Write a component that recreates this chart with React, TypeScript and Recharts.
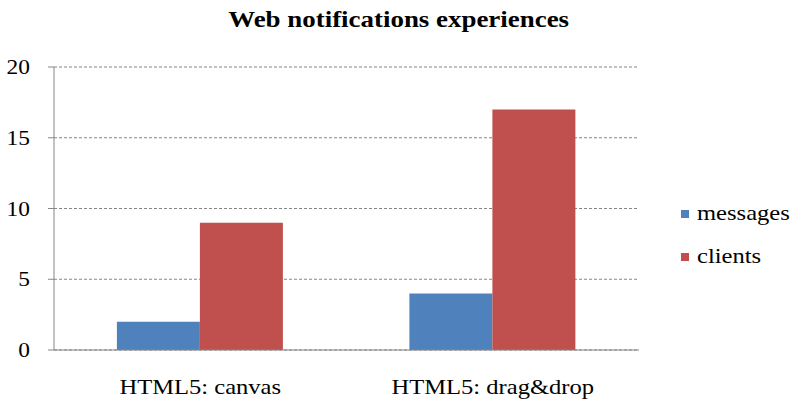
import { BarChart, Bar, XAxis, YAxis, CartesianGrid } from "recharts";

const categories = ["HTML5: canvas", "HTML5: drag&drop"];
const messages = [2, 4];
const clients = [9, 17];
const yTicks = [0, 5, 10, 15, 20];
const edgeTicks = [0, 1, 2];

const data = categories.map((name, i) => ({
  name,
  messages: messages[i],
  clients: clients[i],
}));

const SERIES = [
  { key: "messages", color: "#4F81BD" },
  { key: "clients", color: "#C0504D" },
];

const FONT = "Liberation Serif, Tinos, DejaVu Serif, serif";
const STRETCH = 1.17;
const AXIS = "#868686";

// eslint-disable-next-line @typescript-eslint/no-explicit-any
const YTick = ({ x, y, payload }: any) => (
  <g transform={`translate(${x},${y})`}>
    <text
      transform={`scale(${STRETCH},1)`}
      textAnchor="end"
      dy="0.35em"
      style={{ fontFamily: FONT, fontSize: 20 }}
      fill="#000"
    >
      {payload.value}
    </text>
  </g>
);

// eslint-disable-next-line @typescript-eslint/no-explicit-any
const XTick = ({ x, y, payload }: any) => (
  <g transform={`translate(${x},${y})`}>
    <text
      transform={`scale(${STRETCH},1)`}
      textAnchor="middle"
      dy={44}
      style={{ fontFamily: FONT, fontSize: 21 }}
      fill="#000"
    >
      {payload.value}
    </text>
  </g>
);

export default function App() {
  return (
    <div style={{ position: "absolute", left: 0, top: 0, width: 793, height: 401, background: "#fff" }}>
      <div
        style={{
          position: "absolute",
          left: 0,
          top: 6,
          width: 793,
          textAlign: "center",
          fontFamily: FONT,
          fontWeight: "bold",
          fontSize: 23,
          lineHeight: "28px",
        }}
      >
        <span style={{ display: "inline-block", transform: `scaleX(${STRETCH})`, marginLeft: 4 }}>
          Web notifications experiences
        </span>
      </div>
      <BarChart
        width={793}
        height={401}
        data={data}
        margin={{ top: 67, right: 154, bottom: 0, left: 0 }}
        barCategoryGap="21.5%"
        barGap={0}
      >
        <CartesianGrid vertical={false} stroke={AXIS} strokeDasharray="3 2" />
        <XAxis
          xAxisId="edge"
          type="number"
          domain={[0, 2]}
          ticks={edgeTicks}
          tick={false}
          axisLine={false}
          tickLine={{ stroke: AXIS }}
          tickSize={6}
          height={0}
        />
        <XAxis
          dataKey="name"
          tick={<XTick />}
          tickLine={false}
          tickSize={0}
          tickMargin={0}
          axisLine={{ stroke: AXIS }}
          height={51}
          interval={0}
        />
        <YAxis
          domain={[0, 20]}
          ticks={yTicks}
          width={54}
          tick={<YTick />}
          tickSize={6}
          tickMargin={18}
          axisLine={{ stroke: AXIS }}
          tickLine={{ stroke: AXIS }}
        />
        {SERIES.map((s) => (
          <Bar key={s.key} dataKey={s.key} fill={s.color} isAnimationActive={false} />
        ))}
      </BarChart>
      <div
        style={{
          position: "absolute",
          left: 681,
          top: 192,
          width: 112,
          fontFamily: FONT,
          fontSize: 21,
          color: "#000",
        }}
      >
        {SERIES.map((s) => (
          <div key={s.key} style={{ display: "flex", alignItems: "center", height: 43 }}>
            <span style={{ width: 8, height: 8, background: s.color, marginRight: 8, flex: "none" }} />
            <span
              style={{ display: "inline-block", transform: `scaleX(${STRETCH})`, transformOrigin: "left center" }}
            >
              {s.key}
            </span>
          </div>
        ))}
      </div>
    </div>
  );
}
